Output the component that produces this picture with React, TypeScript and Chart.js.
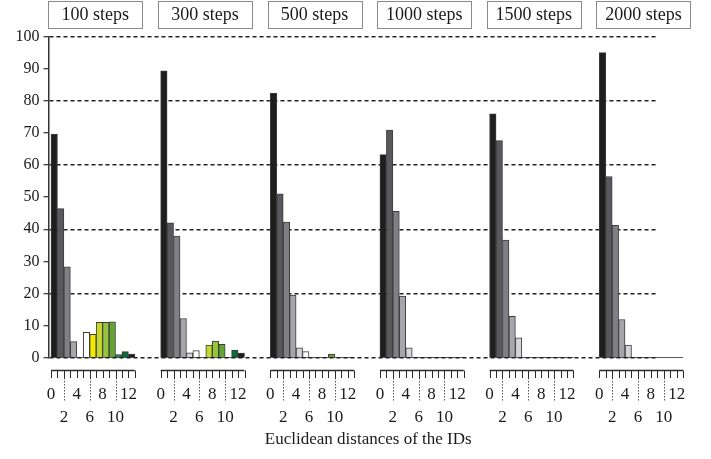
import React, { useEffect, useRef } from 'react';
import { Chart, registerables } from 'chart.js';

Chart.register(...registerables);

// ---------------- data ----------------
const STEP_LABELS = ['100 steps', '300 steps', '500 steps', '1000 steps', '1500 steps', '2000 steps'];
const DISTANCES = [0, 1, 2, 3, 4, 5, 6, 7, 8, 9, 10, 11, 12];
const steps100 = [69.6, 46.4, 28.3, 5.0, 0, 7.9, 7.3, 11.0, 11.0, 11.2, 1.0, 1.9, 1.1];
const steps300 = [89.3, 42.0, 37.9, 12.2, 1.5, 2.2, 0, 3.9, 5.2, 4.2, 0, 2.4, 1.4];
const steps500 = [82.3, 51.0, 42.2, 19.5, 3.1, 1.9, 0, 0, 0, 1.1, 0, 0, 0];
const steps1000 = [63.2, 70.9, 45.6, 19.2, 3.1, 0, 0, 0, 0, 0, 0, 0, 0];
const steps1500 = [75.9, 67.6, 36.6, 12.9, 6.2, 0, 0, 0, 0, 0, 0, 0, 0];
const steps2000 = [95.0, 56.4, 41.2, 11.9, 3.9, 0, 0, 0, 0, 0, 0, 0, 0];
const ROW1_TICKS = [0, 4, 8, 12];
const ROW2_TICKS = [2, 6, 10];
const Y_MIN = 0;
const Y_MAX = 100;
const Y_STEP = 10;
const Y_GRID_EVERY = 20;
const X_TITLE = 'Euclidean distances of the IDs';

// ---------------- styles / layout ----------------
const BIN_COLORS = [
  '#1e1e1e', '#58585d', '#7f7f85', '#a5a5ab', '#d3d3d9', '#ffffff',
  '#f4ea00', '#c6d82e', '#94c43c', '#64a434', '#17873f', '#0b6a3a', '#1e1e1e',
];
const FONT = "'Liberation Serif', 'Times New Roman', serif";
const TEXT = '#1a1a1a';
const PANEL_SLOTS = 17; // 13 bins + gap
const X_MIN = -0.388;
const X_MAX = 98.76;
const GRID_END_X = 94.06;
const RULER_OFFSET = 12.3; // px below the zero line
const RULER_TICK = 7.5;
const CONNECTOR_END = 44;
const BOX_CENTER = 6.86;
const BOX_W = 94;
const BOX_H = 27;
const BOX_TOP = 1;

// step boxes above the panels, positioned through the x scale
const boxPlugin = {
  id: 'stepBoxes',
  afterDraw(chart: any) {
    const xs = chart.scales.x;
    const ctx = chart.ctx;
    ctx.save();
    ctx.font = `18px ${FONT}`;
    ctx.textAlign = 'center';
    ctx.textBaseline = 'middle';
    STEP_LABELS.forEach((label, p) => {
      const cx = xs.getPixelForValue(p * PANEL_SLOTS + BOX_CENTER);
      const left = Math.round(cx - BOX_W / 2) + 0.5;
      ctx.fillStyle = '#ffffff';
      ctx.fillRect(left, BOX_TOP + 0.5, BOX_W, BOX_H);
      ctx.strokeStyle = '#8a8a8a';
      ctx.lineWidth = 1;
      ctx.strokeRect(left, BOX_TOP + 0.5, BOX_W, BOX_H);
      ctx.fillStyle = TEXT;
      ctx.fillText(label, cx, BOX_TOP + BOX_H / 2 + 1);
    });
    ctx.restore();
  },
};

// distance rulers under each panel, positioned through the x / y scales
const rulerPlugin = {
  id: 'rulers',
  afterDatasetsDraw(chart: any) {
    const xs = chart.scales.x;
    const ys = chart.scales.y;
    const ctx = chart.ctx;
    const nBins = DISTANCES.length;
    const zero = ys.getPixelForValue(0);
    const y0 = Math.round(zero + RULER_OFFSET) + 0.5;
    ctx.save();
    STEP_LABELS.forEach((_, p) => {
      const base = p * PANEL_SLOTS;
      ctx.strokeStyle = '#2a2a2a';
      ctx.setLineDash([]);
      ctx.lineWidth = 1.4;
      ctx.beginPath();
      ctx.moveTo(xs.getPixelForValue(base), y0);
      ctx.lineTo(xs.getPixelForValue(base + nBins), y0);
      ctx.stroke();
      ctx.lineWidth = 1;
      [...DISTANCES, nBins].forEach((j) => {
        const x = Math.round(xs.getPixelForValue(base + j)) + 0.5;
        ctx.beginPath();
        ctx.moveTo(x, y0);
        ctx.lineTo(x, y0 + RULER_TICK);
        ctx.stroke();
      });
      ctx.setLineDash([1.5, 1.5]);
      ctx.strokeStyle = '#555';
      ROW2_TICKS.forEach((j) => {
        const x = Math.round(xs.getPixelForValue(base + j)) + 0.5;
        ctx.beginPath();
        ctx.moveTo(x, y0 + RULER_TICK);
        ctx.lineTo(x, zero + CONNECTOR_END);
        ctx.stroke();
      });
    });
    ctx.restore();
  },
};

export default function App() {
  const ref = useRef<HTMLCanvasElement>(null);

  useEffect(() => {
    const canvas = ref.current;
    if (!canvas) return;
    const panels = [steps100, steps300, steps500, steps1000, steps1500, steps2000];
    const nBins = DISTANCES.length;

    const barData = panels.flatMap((vals, p) =>
      vals.map((v, k) => ({ x: p * PANEL_SLOTS + DISTANCES[k] + 0.5, y: v }))
    );
    const barColors = panels.flatMap((vals) => vals.map((_, k) => BIN_COLORS[k]));

    const baseline = STEP_LABELS.flatMap((_, p) => [
      { x: p * PANEL_SLOTS, y: 0 },
      { x: p * PANEL_SLOTS + nBins, y: 0 },
      { x: p * PANEL_SLOTS + nBins + 0.5, y: null },
    ]);

    const xTickValues = STEP_LABELS.flatMap((_, p) =>
      [...DISTANCES, nBins].map((j) => p * PANEL_SLOTS + j)
    );

    const chart = new Chart(canvas, {
      type: 'bar',
      data: {
        datasets: [
          {
            type: 'line',
            data: baseline as any,
            borderColor: '#222',
            borderWidth: 1.5,
            pointRadius: 0,
            spanGaps: false,
            order: 0,
          } as any,
          {
            type: 'bar',
            data: barData as any,
            backgroundColor: barColors,
            borderColor: '#3c3c3c',
            borderWidth: 1,
            barPercentage: 1,
            categoryPercentage: 1,
            order: 1,
          } as any,
        ],
      },
      options: {
        responsive: false,
        animation: false,
        devicePixelRatio: 1,
        layout: { padding: { left: 0, right: 23, top: 36.5, bottom: 0 } },
        plugins: { legend: { display: false }, tooltip: { enabled: false } },
        scales: {
          x: {
            type: 'linear',
            position: 'bottom',
            offset: false,
            min: X_MIN,
            max: X_MAX,
            afterBuildTicks: (axis: any) => {
              axis.ticks = xTickValues.map((v) => ({ value: v }));
            },
            afterFit: (axis: any) => {
              axis.height = 101.3;
            },
            border: { display: false },
            grid: { display: false, drawTicks: false, offset: false },
            ticks: {
              autoSkip: false,
              maxRotation: 0,
              minRotation: 0,
              padding: 25,
              color: TEXT,
              font: { family: FONT, size: 17, lineHeight: 1.35 },
              callback: (value: any) => {
                const j = Math.round(Number(value)) % PANEL_SLOTS;
                if (ROW1_TICKS.includes(j)) return String(j);
                if (ROW2_TICKS.includes(j)) return ['', String(j)];
                return '';
              },
            },
            title: {
              display: true,
              text: X_TITLE,
              color: TEXT,
              font: { family: FONT, size: 17 },
              padding: { top: 0, bottom: 8.8 },
            },
          },
          y: {
            type: 'linear',
            position: 'left',
            min: Y_MIN,
            max: Y_MAX,
            afterFit: (axis: any) => {
              axis.width = 48.5;
            },
            ticks: {
              stepSize: Y_STEP,
              padding: 4,
              color: TEXT,
              font: { family: FONT, size: 16 },
            },
            grid: {
              color: (ctx: any) =>
                ctx && ctx.tick && ctx.tick.value % Y_GRID_EVERY === 0 ? '#222' : 'rgba(0,0,0,0)',
              lineWidth: 1.4,
              tickLength: 5,
              tickColor: '#333',
              tickWidth: 1.2,
              tickBorderDash: [],
            },
            border: {
              display: true,
              color: '#333',
              width: 1.5,
              dash: (ctx: any) => {
                const xs = ctx && ctx.chart && ctx.chart.scales.x;
                if (!xs) return [4, 3];
                const len = xs.getPixelForValue(GRID_END_X) - xs.left;
                const arr: number[] = [];
                for (let s = 0; s + 7 <= len; s += 7) arr.push(4, 3);
                arr.push(0, 3000);
                return arr;
              },
            },
          },
        },
      } as any,
      plugins: [rulerPlugin, boxPlugin],
    });
    return () => chart.destroy();
  }, []);

  return (
    <div style={{ position: 'fixed', left: 0, top: 0, width: 711, height: 459, background: '#fff' }}>
      <canvas ref={ref} width={711} height={459} style={{ display: 'block' }} />
    </div>
  );
}
